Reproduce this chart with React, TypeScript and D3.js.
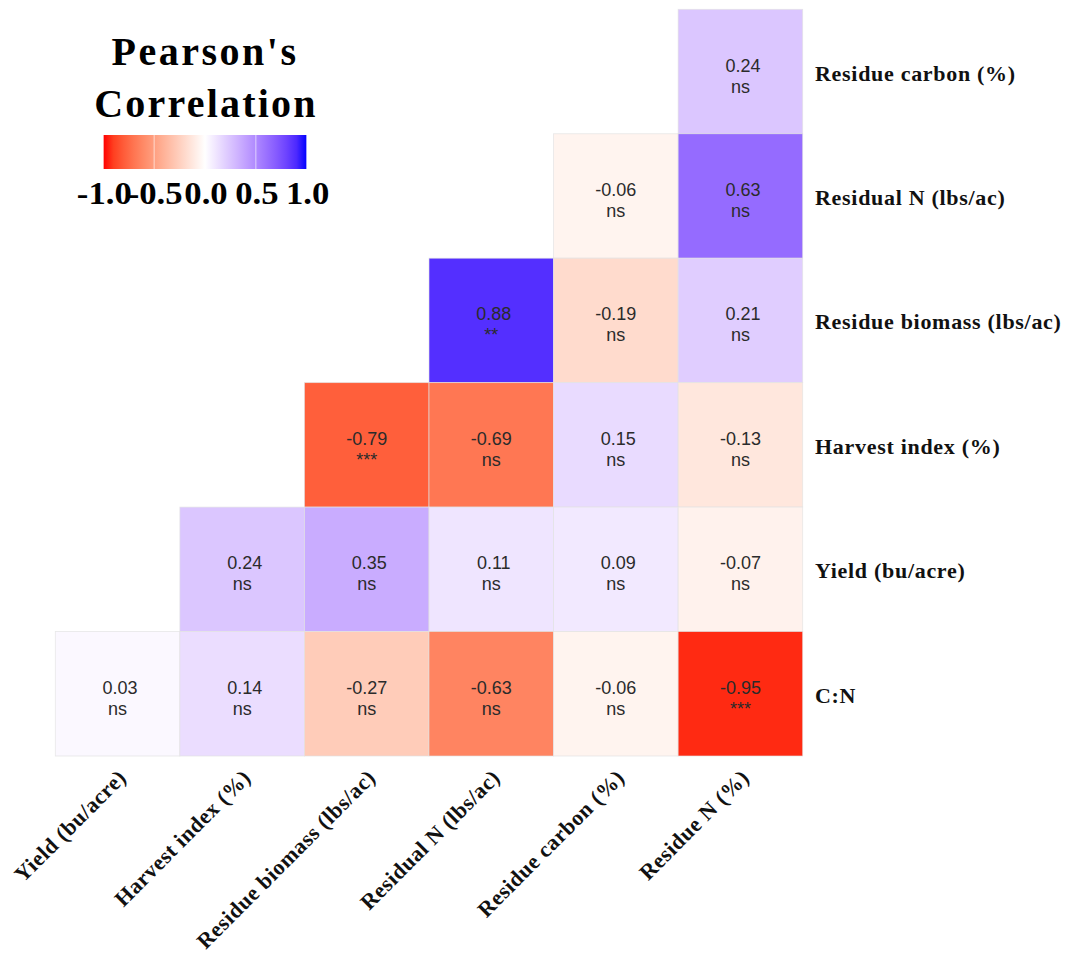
import React from "react";
import * as d3 from "d3";

// Variables along the x axis (left → right) and y axis (top → bottom)
const xVars = [
  "Yield (bu/acre)",
  "Harvest index (%)",
  "Residue biomass (lbs/ac)",
  "Residual N (lbs/ac)",
  "Residue carbon (%)",
  "Residue N (%)",
];
const yVars = [
  "Residue carbon (%)",
  "Residual N (lbs/ac)",
  "Residue biomass (lbs/ac)",
  "Harvest index (%)",
  "Yield (bu/acre)",
  "C:N",
];

// Pearson r, one row per yVar, columns follow xVars (null = not shown)
const rValues: (number | null)[][] = [
  [null, null, null, null, null, 0.24],
  [null, null, null, null, -0.06, 0.63],
  [null, null, null, 0.88, -0.19, 0.21],
  [null, null, -0.79, -0.69, 0.15, -0.13],
  [null, 0.24, 0.35, 0.11, 0.09, -0.07],
  [0.03, 0.14, -0.27, -0.63, -0.06, -0.95],
];

// Significance codes matching rValues
const sigLabels: string[][] = [
  ["", "", "", "", "", "ns"],
  ["", "", "", "", "ns", "ns"],
  ["", "", "", "**", "ns", "ns"],
  ["", "", "***", "ns", "ns", "ns"],
  ["", "ns", "ns", "ns", "ns", "ns"],
  ["ns", "ns", "ns", "ns", "ns", "***"],
];

const legendTicks = [-1.0, -0.5, 0.0, 0.5, 1.0];

const W = 1065;
const H = 954;

const SERIF = "'Liberation Serif', 'Times New Roman', serif";
const SANS = "'Liberation Sans', Arial, sans-serif";

// Diverging red–white–blue fill, interpolated in Lab space
const negPart = d3.interpolateLab("white", "red");
const posPart = d3.interpolateLab("white", "blue");
const fill = (v: number) => (v < 0 ? negPart(-v) : posPart(v));

// positive values get a leading space so they line up with negatives
const fmt = (v: number) => (v < 0 ? "-" + Math.abs(v).toFixed(2) : " " + v.toFixed(2));

export default function App() {
  const x = d3.scaleBand<string>().domain(xVars).range([55.3, 802.7]);
  const y = d3.scaleBand<string>().domain(yVars).range([9.3, 756]);
  const bw = x.bandwidth();
  const bh = y.bandwidth();

  const legX = d3.scaleLinear().domain([-1, 1]).range([103.3, 306.7]);
  const legTop = 135;
  const legH = 34;
  const gradStops = d3.range(0, 1.0001, 0.05).map((t) => ({
    off: t,
    color: fill(-1 + 2 * t),
  }));

  const cells: { yi: number; xi: number; r: number; sig: string }[] = [];
  rValues.forEach((row, yi) =>
    row.forEach((r, xi) => {
      if (r !== null) cells.push({ yi, xi, r, sig: sigLabels[yi][xi] });
    })
  );

  return (
    <svg
      width={W}
      height={H}
      viewBox={`0 0 ${W} ${H}`}
      style={{ position: "absolute", left: 0, top: 0, display: "block", background: "white" }}
    >
      <defs>
        <linearGradient id="corrGrad" x1="0" x2="1" y1="0" y2="0">
          {gradStops.map((s, i) => (
            <stop key={i} offset={s.off} stopColor={s.color} />
          ))}
        </linearGradient>
      </defs>

      {/* heatmap tiles */}
      <g>
        {cells.map((c, i) => {
          const cx = x(xVars[c.xi])!;
          const cy = y(yVars[c.yi])!;
          return (
            <g key={i}>
              <rect
                x={cx}
                y={cy}
                width={bw}
                height={bh}
                fill={fill(c.r)}
                stroke="#e2e2e2"
                strokeOpacity={0.8}
                strokeWidth={0.8}
              />
              <text
                x={cx + bw / 2}
                y={cy + bh / 2}
                textAnchor="middle"
                fontFamily={SANS}
                fontSize={18}
                fill="#2b2b2b"
                style={{ whiteSpace: "pre" }}
              >
                {fmt(c.r)}
              </text>
              <text
                x={cx + bw / 2}
                y={cy + bh / 2 + 21}
                textAnchor="middle"
                fontFamily={SANS}
                fontSize={18}
                fill="#2b2b2b"
              >
                {c.sig}
              </text>
            </g>
          );
        })}
      </g>

      {/* y axis labels on the right */}
      <g>
        {yVars.map((v) => (
          <text
            key={v}
            x={815}
            y={y(v)! + bh / 2 + 9}
            fontFamily={SERIF}
            fontWeight="bold"
            fontSize={22}
            letterSpacing={0.7}
            fill="#111"
          >
            {v}
          </text>
        ))}
      </g>

      {/* x axis labels, rotated */}
      <g>
        {xVars.map((v) => {
          const px = x(v)! + bw / 2 + 10;
          const py = 779;
          return (
            <text
              key={v}
              transform={`translate(${px},${py}) rotate(-45)`}
              textAnchor="end"
              fontFamily={SERIF}
              fontWeight="bold"
              fontSize={22}
              letterSpacing={0.5}
              fill="#111"
            >
              {v}
            </text>
          );
        })}
      </g>

      {/* legend */}
      <g>
        <text
          x={205}
          y={65}
          textAnchor="middle"
          fontFamily={SERIF}
          fontWeight="bold"
          fontSize={40}
          letterSpacing={2.5}
          fill="#000"
        >
          Pearson's
        </text>
        <text
          x={206}
          y={117}
          textAnchor="middle"
          fontFamily={SERIF}
          fontWeight="bold"
          fontSize={40}
          letterSpacing={2.2}
          fill="#000"
        >
          Correlation
        </text>
        <rect x={legX(-1)} y={legTop} width={legX(1) - legX(-1)} height={legH} fill="url(#corrGrad)" />
        {legendTicks.map((t) => (
          <line
            key={t}
            x1={legX(t)}
            x2={legX(t)}
            y1={legTop}
            y2={legTop + legH}
            stroke="white"
            strokeOpacity={0.6}
            strokeWidth={1}
          />
        ))}
        {legendTicks.map((t) => (
          <text
            key={"l" + t}
            transform={`translate(${legX(t) + 1},${204}) scale(1.12,1)`}
            textAnchor="middle"
            fontFamily={SERIF}
            fontWeight="bold"
            fontSize={31}
            fill="#000"
          >
            {(t < 0 ? "-" : "") + Math.abs(t).toFixed(1)}
          </text>
        ))}
      </g>
    </svg>
  );
}
